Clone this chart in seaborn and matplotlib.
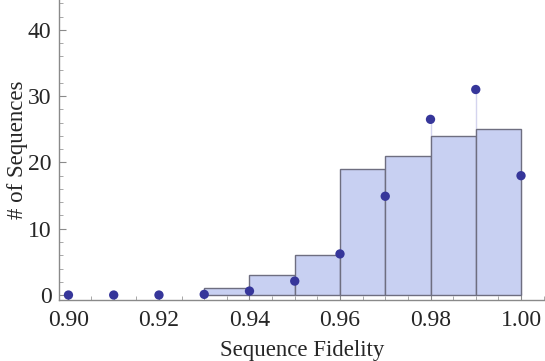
import numpy as np
import pandas as pd
import matplotlib
matplotlib.use("Agg")
import matplotlib.pyplot as plt
import seaborn as sns
from matplotlib.ticker import MultipleLocator

# Data
bin_edges = [0.93, 0.94, 0.95, 0.96, 0.97, 0.98, 0.99, 1.00]
bin_counts = [1, 3, 6, 19, 21, 24, 25]
point_x = [0.90, 0.91, 0.92, 0.93, 0.94, 0.95, 0.96, 0.97, 0.98, 0.99, 1.00]
point_y = [0.0, 0.0, 0.0, 0.1, 0.6, 2.1, 6.2, 14.9, 26.5, 31.0, 18.0]
x_ticks = [0.90, 0.92, 0.94, 0.96, 0.98, 1.00]
x_tick_labels = ["0.90", "0.92", "0.94", "0.96", "0.98", "1.00"]
y_ticks = [0, 10, 20, 30, 40]

sns.set_style("ticks")
plt.rcParams['font.family'] = ['Liberation Serif', 'DejaVu Serif']

fig = plt.figure(figsize=(5.45, 3.61), dpi=100)
ax = fig.add_axes([58.5/545, (361-300)/361, (545-58.5)/545, 300/361])

bin_left = bin_edges[:-1]
hist_df = pd.DataFrame({"x": [b + 0.005 for b in bin_left], "w": bin_counts})

# stems
ax.vlines(point_x, 0, point_y, color="#d4d4ee", lw=1.0, zorder=1)

sns.histplot(data=hist_df, x="x", weights="w", bins=bin_edges, stat="count",
             color="#c8d0f2", alpha=1.0, edgecolor="#6e6e80", linewidth=1.0,
             ax=ax, zorder=2)

pts_df = pd.DataFrame({"x": point_x, "y": point_y})
sns.scatterplot(data=pts_df, x="x", y="y", color="#36369a", s=45,
                edgecolor="none", ax=ax, zorder=3, clip_on=False)

ax.set_xlim(0.8978, 1.0053)
ax.set_ylim(-0.75, 44.5)

ax.set_xticks(x_ticks)
ax.set_xticklabels(x_tick_labels)
ax.set_yticks(y_ticks)
ax.xaxis.set_minor_locator(MultipleLocator(0.005))
ax.yaxis.set_minor_locator(MultipleLocator(2))

for side in ["top", "right"]:
    ax.spines[side].set_visible(False)
for side in ["left", "bottom"]:
    ax.spines[side].set_color("#8a8a8a")
    ax.spines[side].set_linewidth(1.0)

ax.tick_params(axis="both", which="major", direction="in", length=5,
               width=0.8, color="#8a8a8a", labelsize=17)
ax.tick_params(axis="x", which="major", pad=7)
ax.tick_params(axis="y", which="major", pad=5)
ax.tick_params(axis="both", which="minor", direction="in", length=3,
               width=0.6, color="#9a9a9a")

ax.set_xlabel("Sequence Fidelity", fontsize=16.5, labelpad=7)
ax.set_ylabel("# of Sequences", fontsize=16.5, labelpad=0)

fig.savefig("out.png", dpi=100)
